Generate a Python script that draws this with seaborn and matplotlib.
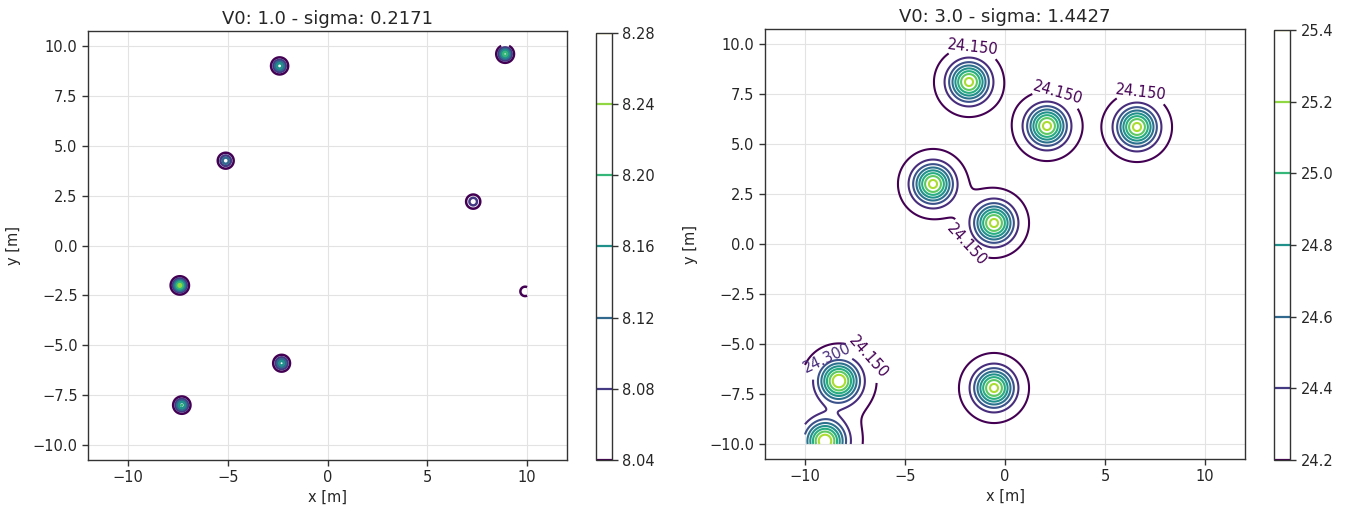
import numpy as np
import matplotlib
matplotlib.use("Agg")
import matplotlib.pyplot as plt
import seaborn as sns
from matplotlib.colors import Normalize, ListedColormap
from matplotlib.cm import ScalarMappable

sns.set_theme(style="ticks")
plt.rcParams['font.family'] = ['DejaVu Sans']
plt.rcParams['axes.unicode_minus'] = True

# ---------------- data ----------------
left_title = "V0: 1.0 - sigma: 0.2171"
left_sigma = 0.2171
left_base = 8.015
left_x = [-2.4, 8.9, -5.1, 7.3, -7.4, 9.9, -2.3, -7.3]
left_y = [9.0, 9.6, 4.25, 2.2, -2.0, -2.3, -5.9, -8.0]
left_amp = [0.175, 0.205, 0.135, 0.095, 0.235, 0.045, 0.165, 0.185]
left_levels = [8.04, 8.08, 8.12, 8.16, 8.20, 8.24, 8.28]
left_cbar_ticks = [8.04, 8.08, 8.12, 8.16, 8.20, 8.24, 8.28]

right_title = "V0: 3.0 - sigma: 1.4427"
right_base = 24.105
right_x = [-1.8, 2.1, 6.6, -3.6, -0.55, -8.3, -0.55, -9.0]
right_y = [8.1, 5.9, 5.85, 3.0, 1.05, -6.85, -7.2, -9.85]
right_core_amp = [1.01, 1.01, 1.01, 1.01, 1.01, 1.01, 1.01, 1.01]
right_halo_amp = [0.143, 0.143, 0.143, 0.143, 0.143, 0.22, 0.143, 0.22]
right_core_width = 0.6
right_halo_width = 1.0
right_levels = [24.15, 24.30, 24.45, 24.60, 24.75, 24.90, 25.05, 25.20, 25.35]
right_cbar_ticks = [24.2, 24.4, 24.6, 24.8, 25.0, 25.2, 25.4]
right_label_pos = [(-1.6, 9.8), (2.6, 7.5), (6.8, 7.5), (-1.9, 0.0), (-7.0, -5.8), (-8.85, -5.75)]

# ---------------- fields ----------------
g = np.linspace(-10, 10, 1001)
X, Y = np.meshgrid(g, g)

Z1 = np.full_like(X, left_base)
for cx, cy, a in zip(left_x, left_y, left_amp):
    r2 = (X - cx) ** 2 + (Y - cy) ** 2
    Z1 += a * np.exp(-r2 / (2 * left_sigma ** 2))

Z2 = np.full_like(X, right_base)
for cx, cy, ac, ah in zip(right_x, right_y, right_core_amp, right_halo_amp):
    r2 = (X - cx) ** 2 + (Y - cy) ** 2
    Z2 += (ac * np.exp(-r2 / (2 * right_core_width ** 2))
           + ah * np.exp(-r2 / (2 * right_halo_width ** 2)))

cmap = sns.color_palette("viridis", as_cmap=True)

fig = plt.figure(figsize=(13.54, 5.12), dpi=100)
W, H = 1354, 512
ax1 = fig.add_axes([88 / W, 52 / H, 479 / W, 429 / H])
cax1 = fig.add_axes([596 / W, 52 / H, 16 / W, 427 / H])
ax2 = fig.add_axes([765 / W, 53 / H, 480 / W, 430 / H])
cax2 = fig.add_axes([1274 / W, 52 / H, 16 / W, 430 / H])


def style_axes(ax, title):
    ax.set_xlim(-12, 12)
    ax.set_ylim(-10.75, 10.75)
    ax.set_xticks([-10, -5, 0, 5, 10])
    ax.set_yticks(np.arange(-10, 10.1, 2.5))
    ax.yaxis.set_major_formatter(matplotlib.ticker.FuncFormatter(
        lambda v, p: ("%.1f" % v).replace("-", "\u2212")))
    ax.grid(True, color='#e3e3e3', lw=0.8)
    ax.set_axisbelow(True)
    ax.set_title(title, fontsize=13, pad=5)
    ax.set_xlabel("x [m]", fontsize=10.5, labelpad=3)
    ax.set_ylabel("y [m]", fontsize=10.5, labelpad=8)
    ax.tick_params(labelsize=10.5, length=4, width=1, color='#333333')
    for s in ax.spines.values():
        s.set_color('#333333')
        s.set_linewidth(1.0)


def style_cbar(cax, ticks, fmt):
    norm = Normalize(ticks[0], ticks[-1])
    sm = ScalarMappable(norm=norm, cmap=ListedColormap(['white']))
    cb = fig.colorbar(sm, cax=cax, ticks=ticks)
    for t in ticks:
        cax.axhline(t, color=cmap(norm(t)), lw=1.6)
    cb.ax.set_yticklabels([fmt % t for t in ticks])
    cb.ax.tick_params(labelsize=10.5, length=4, width=1, color='#333333')
    cb.outline.set_edgecolor('#333333')
    cb.outline.set_linewidth(1.0)
    return cb


cs1 = ax1.contour(X, Y, Z1, levels=left_levels, cmap=cmap, linewidths=1.8)
style_axes(ax1, left_title)
style_cbar(cax1, left_cbar_ticks, "%.2f")

cs2 = ax2.contour(X, Y, Z2, levels=right_levels, cmap=cmap, linewidths=1.5)
ax2.clabel(cs2, levels=[24.15, 24.30], manual=right_label_pos, fmt='%1.3f',
           fontsize=10.5, inline=True)
style_axes(ax2, right_title)
style_cbar(cax2, right_cbar_ticks, "%.1f")

fig.savefig("out.png", dpi=100)
